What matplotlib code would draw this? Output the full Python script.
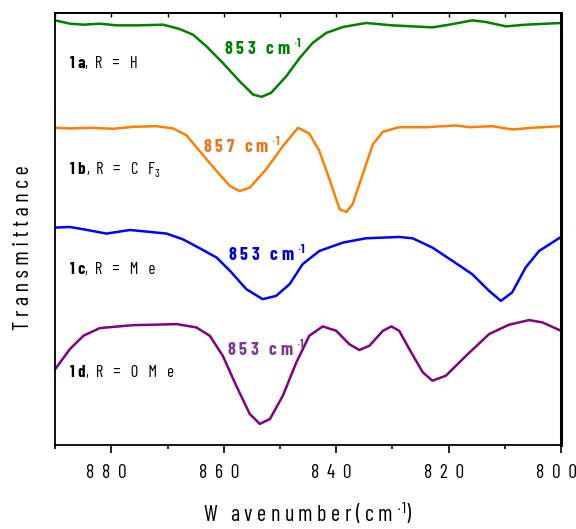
import matplotlib
matplotlib.use('Agg')
import matplotlib.pyplot as plt
import matplotlib.transforms as mtransforms
from matplotlib import font_manager
from matplotlib.ticker import MultipleLocator, NullLocator

# ---- data (transmittance in arbitrary units) ----
wn_1a = [890.0, 887.4, 885.0, 882.1, 879.1, 875.5, 870.8, 867.9, 865.5, 863.1,
         860.2, 857.2, 854.8, 853.3, 851.6, 848.9, 846.5, 844.2, 841.8, 838.8,
         834.7, 830.0, 826.4, 822.9, 819.9, 815.8, 813.4, 809.8, 806.3, 800.0]
t_1a = [425.3, 422.0, 421.0, 422.0, 420.3, 420.3, 421.0, 416.7, 411.0, 399.3,
        382.7, 364.3, 351.0, 348.7, 352.7, 369.3, 387.7, 402.7, 412.7, 418.7,
        422.7, 420.3, 419.3, 418.3, 421.0, 425.3, 423.7, 419.3, 421.0, 422.7]

wn_1b = [890.0, 887.4, 883.8, 879.7, 876.1, 872.0, 869.0, 866.7, 864.3, 861.3,
         858.9, 857.2, 855.4, 852.5, 849.5, 846.8, 844.8, 843.0, 841.2, 839.4,
         838.2, 837.1, 835.3, 833.5, 831.7, 828.8, 824.0, 818.7, 816.3, 812.2,
         808.7, 805.1, 800.0]
t_1b = [317.7, 317.0, 317.7, 316.7, 318.7, 319.3, 317.0, 310.3, 294.3, 274.3,
        259.3, 254.3, 257.7, 276.0, 299.3, 317.7, 312.0, 294.3, 266.0, 236.0,
        233.3, 241.0, 271.0, 301.0, 313.7, 318.3, 318.3, 320.0, 318.3, 319.3,
        316.0, 317.7, 319.3]

wn_1c = [890.0, 887.4, 885.0, 880.9, 876.7, 873.8, 870.2, 867.3, 864.3, 861.3,
         858.9, 856.0, 853.1, 850.7, 848.3, 846.0, 843.0, 838.8, 834.7, 828.8,
         826.4, 822.9, 819.3, 815.8, 812.8, 810.7, 808.7, 806.3, 803.9, 800.0]
t_1c = [217.7, 218.3, 216.0, 211.7, 215.3, 213.7, 211.7, 206.0, 197.0, 187.7,
        174.3, 156.0, 146.0, 149.3, 161.0, 181.0, 194.3, 202.7, 207.0, 208.3,
        207.0, 197.7, 184.3, 171.0, 154.3, 144.3, 152.7, 177.7, 194.3, 208.3]

wn_1d = [890.0, 887.4, 885.0, 882.1, 876.1, 873.2, 868.4, 864.9, 862.5, 860.2,
         857.8, 855.4, 853.6, 851.8, 849.5, 847.1, 844.8, 842.4, 840.0, 837.7,
         835.9, 834.1, 831.7, 830.2, 828.8, 827.0, 824.6, 822.9, 820.5, 816.9,
         812.8, 809.3, 805.7, 803.3, 800.0]
t_1d = [76.0, 96.0, 109.3, 117.0, 120.0, 120.3, 121.0, 117.7, 109.3, 89.3,
        59.3, 31.0, 21.0, 26.0, 49.3, 82.7, 109.3, 118.7, 114.3, 101.0,
        95.0, 99.3, 114.3, 118.7, 114.3, 96.0, 72.7, 64.3, 69.3, 89.3,
        111.0, 120.3, 125.0, 122.7, 114.3]

bold_ids = ['1 a', '1 b', '1 c', '1 d']
subst = [',  R   =   H', ',  R   =   C   F$_{3}$', ',  R   =   M   e', ',  R   =   O   M   e']
peaks = ['853', '857', '853', '853']

line_colors = ['#008000', '#FF8000', '#0000FF', '#800080']
text_colors = ['#008000', '#E8771E', '#0000CC', '#7A3C96']

# label anchor positions (wavenumber, transmittance baseline)
id_pos = [(887.4, 377.7), (887.3, 271.7), (887.4, 171.0), (887.3, 67.7)]
peak_pos = [(860.0, 391.0), (863.8, 292.7), (859.3, 184.3), (859.5, 89.3)]

# ---- fonts: a narrow sans if one is there ----
have = set(f.name for f in font_manager.fontManager.ttflist)
narrow = [n for n in ['Barlow Condensed', 'Fira Sans Extra Condensed', 'PT Sans Narrow',
                      'Roboto Condensed', 'Liberation Sans Narrow']
          if n in have]
main = narrow[0] if narrow else 'DejaVu Sans'
plt.rcParams['font.family'] = [main, 'DejaVu Sans']
plt.rcParams['mathtext.fontset'] = 'custom'
plt.rcParams['mathtext.rm'] = main
plt.rcParams['mathtext.bf'] = main + ':bold'

def spaced(s, gap=' '):
    return gap.join(s)

fig = plt.figure(figsize=(5.76, 5.29), dpi=100)
ax = fig.add_axes([0.096, 0.159, 0.878, 0.817])

for wn, t, c in zip([wn_1a, wn_1b, wn_1c, wn_1d], [t_1a, t_1b, t_1c, t_1d], line_colors):
    ax.plot(wn, t, color=c, lw=1.8, solid_joinstyle='round')

for i in range(4):
    x, y = id_pos[i]
    t1 = ax.text(x, y, bold_ids[i], fontsize=12, fontweight='bold', va='baseline')
    ax.annotate(subst[i], xy=(1, y), xycoords=(t1, 'data'), fontsize=12,
                va='baseline', ha='left')
    px, py = peak_pos[i]
    ax.text(px, py, spaced(peaks[i]) + '   c m ' + r'$^{\mathbf{\cdot 1}}$',
            fontsize=13, fontweight='bold', color=text_colors[i], va='baseline')

ax.set_xlim(890, 800)
ax.set_ylim(0, 433)
ax.yaxis.set_major_locator(NullLocator())
ax.xaxis.set_major_locator(MultipleLocator(20))
ax.xaxis.set_minor_locator(MultipleLocator(10))
ax.xaxis.set_major_formatter(plt.FuncFormatter(lambda v, p: spaced(str(int(v)), '  ')))
ax.tick_params(axis='x', which='major', direction='out', length=6, width=1.2,
               labelsize=14, pad=8)
ax.tick_params(axis='x', which='minor', direction='out', length=3, width=1.2)

# tick labels sit a few pixels left of their ticks in the original
shift = mtransforms.ScaledTranslation(-0.05, 0, fig.dpi_scale_trans)
for lbl in ax.get_xticklabels():
    lbl.set_transform(lbl.get_transform() + shift)

top = ax.secondary_xaxis('top')
top.xaxis.set_major_locator(MultipleLocator(10))
top.tick_params(direction='in', length=3, width=1.0, labeltop=False)

for s in ['left', 'bottom', 'top']:
    ax.spines[s].set_linewidth(1.3)
top.spines['top'].set_linewidth(1.3)
ax.spines['right'].set_linewidth(2.2)

ax.set_xlabel('W   ' + spaced('avenumber') + ' ( c m ' + r'$^{\cdot 1}$)',
              fontsize=16, labelpad=14)
ax.set_ylabel(spaced('Transmittance'), fontsize=16)
ax.yaxis.set_label_coords(-0.043, 0.457)

fig.savefig('out.png', dpi=100)
